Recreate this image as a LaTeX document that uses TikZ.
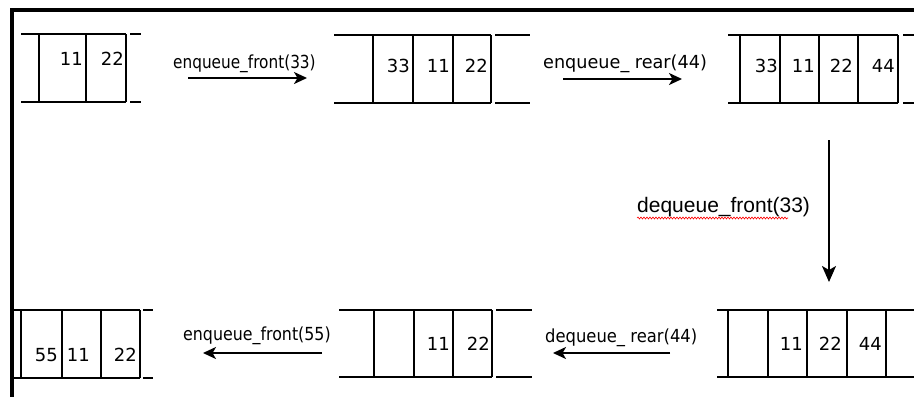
\documentclass[tikz,border=0pt]{standalone}
\usepackage{fontspec}
\setmainfont{DejaVu Sans}
\newfontfamily\labfontA[FakeStretch=0.85]{DejaVu Sans}
\newfontfamily\labfontB[FakeStretch=0.98]{DejaVu Sans}
\newfontfamily\labfontC[FakeStretch=0.91]{DejaVu Sans}
\newfontfamily\labfontD[FakeStretch=0.88]{DejaVu Sans}
\newfontfamily\arialfont{Liberation Sans}
\usetikzlibrary{arrows.meta,decorations.pathmorphing}
\begin{document}
\begin{tikzpicture}[x=1pt,y=-1pt,
  qline/.style={line width=2pt},
  border/.style={line width=3.5pt},
  num/.style={anchor=base east,inner sep=0pt,font=\fontsize{18}{18}\selectfont},
  lab/.style={anchor=base west,inner sep=0pt},
  flow/.style={line width=2pt,-{Stealth[length=13pt,width=12pt,inset=3.5pt]}}]
\useasboundingbox (0,0) rectangle (914,397);
\fill[white] (0,0) rectangle (914,397);
\draw[border] (914,10) -- (12,10) -- (12,397);

% queue 1 (top left)
\draw[qline] (21,34) -- (126,34) (21,102) -- (126,102)
  (39,34) -- (39,102) (86,34) -- (86,102) (126,34) -- (126,102)
  (130,34) -- (141,34) (130,102) -- (141,102);
\node[num] (q1a) at (83,65) {11};
\node[num] (q1b) at (124,65) {22};

% queue 2 (top middle)
\draw[qline] (334,35) -- (491,35) (495,35) -- (530,35)
  (334,103) -- (491,103) (495,103) -- (530,103)
  (373,35) -- (373,103) (413,35) -- (413,103) (453,35) -- (453,103) (491,35) -- (491,103);
\node[num] (q2a) at (410,72) {33};
\node[num] (q2b) at (450,72) {11};
\node[num] (q2c) at (488,72) {22};

% queue 3 (top right)
\draw[qline] (728,35) -- (898,35) (728,103) -- (898,103)
  (903,35) -- (914,35) (903,103) -- (914,103)
  (740,35) -- (740,103) (780,35) -- (780,103) (819,35) -- (819,103)
  (858,35) -- (858,103) (898,35) -- (898,103);
\node[num] (q3a) at (778,72) {33};
\node[num] (q3b) at (815,72) {11};
\node[num] (q3c) at (853,72) {22};
\node[num] (q3d) at (895,72) {44};

% queue 4 (bottom right)
\draw[qline] (717,310) -- (914,310) (717,377) -- (914,377)
  (728,310) -- (728,377) (768,310) -- (768,377) (807,310) -- (807,377)
  (847,310) -- (847,377) (886,310) -- (886,377);
\node[num] (q4a) at (803,350) {11};
\node[num] (q4b) at (842,350) {22};
\node[num] (q4c) at (882,350) {44};

% queue 5 (bottom middle)
\draw[qline] (339,310) -- (492,310) (496,310) -- (532,310)
  (339,377) -- (492,377) (496,377) -- (532,377)
  (374,310) -- (374,377) (414,310) -- (414,377) (453,310) -- (453,377) (492,310) -- (492,377);
\node[num] (q5a) at (450,350) {11};
\node[num] (q5b) at (490,350) {22};

% queue 6 (bottom left)
\draw[qline] (12,310) -- (140,310) (12,378) -- (140,378)
  (21,310) -- (21,378) (62,310) -- (62,378) (101,310) -- (101,378) (140,310) -- (140,378)
  (143,310) -- (153,310) (143,378) -- (153,378);
\node[num] (q6a) at (58,361) {55};
\node[num] (q6b) at (90,361) {11};
\node[num] (q6c) at (137,361) {22};

% arrows
\coordinate (a1s) at (188,78);  \coordinate (a1e) at (307,78);
\coordinate (a2s) at (563,79);  \coordinate (a2e) at (682,79);
\coordinate (a3s) at (829,140); \coordinate (a3e) at (829,282);
\coordinate (a4s) at (670,353); \coordinate (a4e) at (553,353);
\coordinate (a5s) at (322,353); \coordinate (a5e) at (203,353);
\draw[flow] (a1s) -- (a1e);
\draw[flow] (a2s) -- (a2e);
\draw[line width=2pt,-{Stealth[length=16pt,width=14pt,inset=4pt]}] (a3s) -- (a3e);
\draw[flow] (a4s) -- (a4e);
\draw[flow] (a5s) -- (a5e);

% labels
\node[lab,font=\labfontA\fontsize{18}{18}\selectfont] (l1) at (173,68) {enqueue\_front(33)};
\node[lab,font=\labfontB\fontsize{18}{18}\selectfont] (l2) at (543,68) {enqueue\_ rear(44)};
\node[lab,font=\arialfont\fontsize{21}{21}\selectfont] (l3) at (637,212) {dequeue\_front(33)};
\node[lab,font=\labfontC\fontsize{18}{18}\selectfont] (l4) at (545,342) {dequeue\_ rear(44)};
\node[lab,font=\labfontD\fontsize{18}{18}\selectfont] (l5) at (183,340) {enqueue\_front(55)};
\coordinate (w1) at (637,218); \coordinate (w2) at (788,218);
\draw[red,line width=0.6pt,decorate,decoration={snake,amplitude=1pt,segment length=3pt}] (w1) -- (w2);
\end{tikzpicture}
\end{document}
